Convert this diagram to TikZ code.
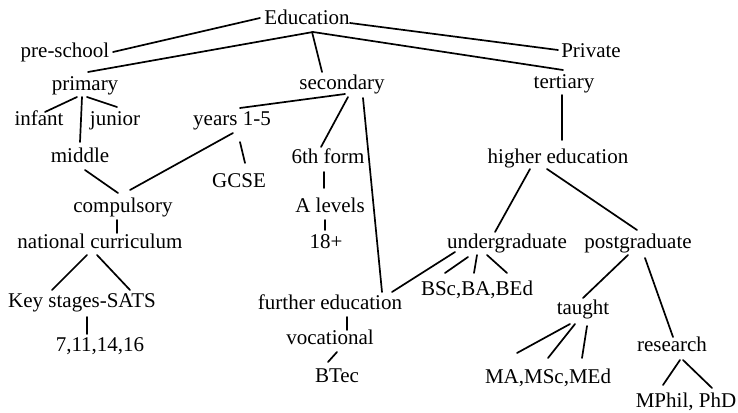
\documentclass[tikz,border=0pt]{standalone}
\usepackage{fontspec}
\setmainfont{Liberation Serif}
\begin{document}
\begin{tikzpicture}[x=1pt,y=-1pt,
  lbl/.style={anchor=base, inner sep=0pt, font=\fontsize{21}{25}\selectfont},
  link/.style={line width=1.7pt, line cap=round}]
\fill[white] (0,0) rectangle (738,412);
\useasboundingbox (0,0) rectangle (738,412);
% nodes (x = centre, y = baseline)
\node[lbl] (edu) at (307,25) {Education};
\node[lbl] (pre) at (65,58) {pre-school};
\node[lbl] (priv) at (591,57) {Private};
\node[lbl] (prim) at (85,90) {primary};
\node[lbl] (sec) at (342,89) {secondary};
\node[lbl] (tert) at (564,88) {tertiary};
\node[lbl] (inf) at (39,125) {infant};
\node[lbl] (jun) at (115,125) {junior};
\node[lbl] (yrs) at (232,125) {years 1-5};
\node[lbl] (mid) at (80,162) {middle};
\node[lbl] (six) at (328,163) {6th form};
\node[lbl] (gcse) at (239,187) {GCSE};
\node[lbl] (he) at (558,163) {higher education};
\node[lbl] (comp) at (123,212) {compulsory};
\node[lbl] (alev) at (330,212) {A levels};
\node[lbl] (nc) at (100,248) {national curriculum};
\node[lbl] (eighteen) at (326,248) {18+};
\node[lbl] (ug) at (507,248) {undergraduate};
\node[lbl] (pg) at (638,248) {postgraduate};
\node[lbl] (bsc) at (477,295) {BSc,BA,BEd};
\node[lbl] (ks) at (82,307) {Key stages-SATS};
\node[lbl] (fe) at (330,309) {further education};
\node[lbl] (taught) at (583,314) {taught};
\node[lbl] (voc) at (330,344) {vocational};
\node[lbl] (sev) at (100,351) {7,11,14,16};
\node[lbl] (res) at (672,351) {research};
\node[lbl] (btec) at (337,382) {BTec};
\node[lbl] (ma) at (548,383) {MA,MSc,MEd};
\node[lbl] (mphil) at (686,407) {MPhil, PhD};
% connectors
\draw[link] ([shift={(-47,-7)}]edu.base) -- ([shift={(48,-6)}]pre.base);
\draw[link] ([shift={(6,7)}]edu.base) -- ([shift={(3,-18)}]prim.base);
\draw[link] ([shift={(5,7)}]edu.base) -- ([shift={(-20,-17)}]sec.base);
\draw[link] ([shift={(6,7)}]edu.base) -- ([shift={(-1,-18)}]tert.base);
\draw[link] ([shift={(43,-2)}]edu.base) -- ([shift={(-33,-7)}]priv.base);
\draw[link] ([shift={(-8,7)}]prim.base) -- ([shift={(6,-13)}]inf.base);
\draw[link] ([shift={(-3,7)}]prim.base) -- ([shift={(0,-20)}]mid.base);
\draw[link] ([shift={(2,7)}]prim.base) -- ([shift={(2,-18)}]jun.base);
\draw[link] ([shift={(3,5)}]sec.base) -- ([shift={(8,-17)}]yrs.base);
\draw[link] ([shift={(6,8)}]sec.base) -- ([shift={(-7,-16)}]six.base);
\draw[link] ([shift={(21,9)}]sec.base) -- ([shift={(52,-17)}]fe.base);
\draw[link] ([shift={(1,8)}]yrs.base) -- ([shift={(7,-22)}]comp.base);
\draw[link] ([shift={(8,17)}]yrs.base) -- ([shift={(6,-24)}]gcse.base);
\draw[link] ([shift={(5,8)}]mid.base) -- ([shift={(-5,-19)}]comp.base);
\draw[link] ([shift={(-4,9)}]six.base) -- ([shift={(-6,-24)}]alev.base);
\draw[link] ([shift={(-5,8)}]alev.base) -- ([shift={(-1,-18)}]eighteen.base);
\draw[link] ([shift={(-6,8)}]comp.base) -- ([shift={(17,-15)}]nc.base);
\draw[link] ([shift={(-13,7)}]nc.base) -- ([shift={(-30,-17)}]ks.base);
\draw[link] ([shift={(-3,7)}]nc.base) -- ([shift={(48,-17)}]ks.base);
\draw[link] ([shift={(5,10)}]ks.base) -- ([shift={(-13,-17)}]sev.base);
\draw[link] ([shift={(17,8)}]fe.base) -- ([shift={(17,-14)}]voc.base);
\draw[link] ([shift={(7,8)}]voc.base) -- ([shift={(-9,-20)}]btec.base);
\draw[link] ([shift={(-52,4)}]ug.base) -- ([shift={(62,-17)}]fe.base);
\draw[link] ([shift={(-2,7)}]tert.base) -- ([shift={(4,-23)}]he.base);
\draw[link] ([shift={(-28,6)}]he.base) -- ([shift={(-12,-16)}]ug.base);
\draw[link] ([shift={(-11,6)}]he.base) -- ([shift={(-1,-18)}]pg.base);
\draw[link] ([shift={(-39,9)}]ug.base) -- ([shift={(-32,-22)}]bsc.base);
\draw[link] ([shift={(-30,7)}]ug.base) -- ([shift={(-3,-22)}]bsc.base);
\draw[link] ([shift={(-20,7)}]ug.base) -- ([shift={(30,-22)}]bsc.base);
\draw[link] ([shift={(-10,7)}]pg.base) -- ([shift={(0,-16)}]taught.base);
\draw[link] ([shift={(7,10)}]pg.base) -- ([shift={(1,-14)}]res.base);
\draw[link] ([shift={(-13,10)}]taught.base) -- ([shift={(-31,-30)}]ma.base);
\draw[link] ([shift={(-8,10)}]taught.base) -- ([shift={(0,-25)}]ma.base);
\draw[link] ([shift={(4,12)}]taught.base) -- ([shift={(34,-25)}]ma.base);
\draw[link] ([shift={(8,9)}]res.base) -- ([shift={(-23,-22)}]mphil.base);
\draw[link] ([shift={(11,9)}]res.base) -- ([shift={(26,-19)}]mphil.base);
\end{tikzpicture}
\end{document}
